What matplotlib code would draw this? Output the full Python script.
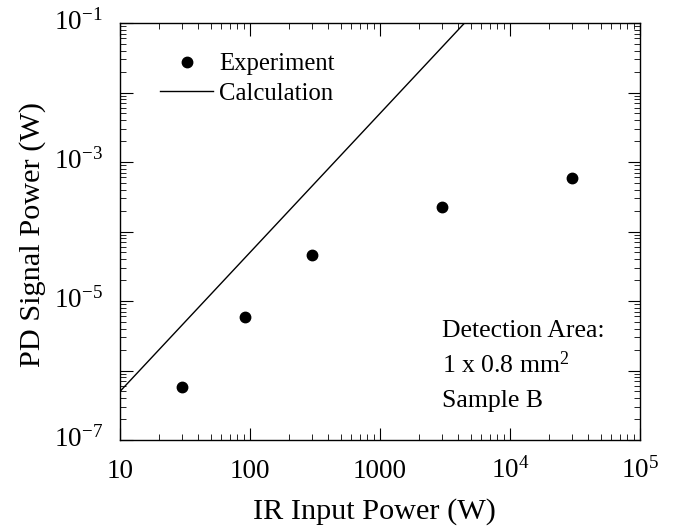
import numpy             as np
import matplotlib
matplotlib.use('Agg')
import matplotlib.pyplot    as plt
import matplotlib.transforms as mtransforms
from matplotlib.ticker import LogLocator, FixedLocator, FixedFormatter, NullFormatter

plt.rcParams['font.family']      = 'Liberation Serif'
plt.rcParams['mathtext.fontset'] = 'custom'
plt.rcParams['mathtext.rm']      = 'Liberation Serif'
plt.rcParams['mathtext.it']      = 'Liberation Serif:italic'
plt.rcParams['xtick.direction']  = 'in'
plt.rcParams['ytick.direction']  = 'in'

# Measured points
exp_x = [30, 92, 300, 3000, 30000]
exp_y = [5.7e-7, 5.9e-6, 4.6e-5, 2.25e-4, 5.9e-4]

# Calculated curve (end points, clipped by the axes)
calc_x = [10, 1e5]
calc_y = [5e-7, 50]

x_ticks       = [10, 100, 1000, 1e4, 1e5]
x_tick_labels = ['10', '100', '1000', r'10$^4$', r'10$^5$']
y_ticks       = [1e-7, 1e-5, 1e-3, 1e-1]
y_tick_labels = [r'10$^{\mathregular{-7}}$', r'10$^{\mathregular{-5}}$',
                 r'10$^{\mathregular{-3}}$', r'10$^{\mathregular{-1}}$']

ticksize  = 19.5
labelsize = 21.8
textsize  = 17.8

fig = plt.figure(figsize=(6.76, 5.27), dpi=100)
ax  = fig.add_axes([120/676, 1 - 440/527, 520/676, 417/527])

ax.plot(calc_x, calc_y, '-', color='black', linewidth=1.0, label='Calculation')
ax.plot(exp_x, exp_y, 'o', color='black', markersize=7.5, label='Experiment')

ax.set_xscale('log')
ax.set_yscale('log')
ax.set_xlim(10, 1e5)
ax.set_ylim(1e-7, 1e-1)

ax.xaxis.set_major_locator(FixedLocator(x_ticks))
ax.xaxis.set_major_formatter(FixedFormatter(x_tick_labels))
ax.xaxis.set_minor_locator(LogLocator(base=10, subs=np.arange(2, 10), numticks=20))
ax.xaxis.set_minor_formatter(NullFormatter())

# only odd decades carry a label on the y axis
ax.yaxis.set_major_locator(LogLocator(base=10, numticks=20))
ax.yaxis.set_minor_locator(LogLocator(base=10, subs=np.arange(2, 10), numticks=20))
ax.yaxis.set_major_formatter(NullFormatter())
ax.yaxis.set_minor_formatter(NullFormatter())
ytrans = mtransforms.offset_copy(ax.get_yaxis_transform(), fig=fig, x=-17, y=-7, units='dots')
for yt, lab in zip(y_ticks, y_tick_labels):
    ax.text(0, yt, lab, transform=ytrans, fontsize=ticksize, ha='right', va='baseline')

ax.tick_params(which='both', direction='in', top=True, right=True, labelsize=ticksize)
ax.tick_params(which='major', length=9, width=0.8)
ax.tick_params(which='minor', length=4.5, width=0.6)
ax.tick_params(axis='x', pad=27.4)
for lab in ax.get_xticklabels():
    lab.set_verticalalignment('baseline')

for spine in ax.spines.values():
    spine.set_linewidth(1.0)

ax.set_xlabel('IR Input Power (W)', fontsize=labelsize)
ax.xaxis.set_label_coords(0.49, -0.14)
ax.set_ylabel('PD Signal Power (W)', fontsize=labelsize)
ax.yaxis.set_label_coords(-0.142, 0.494)

handles, labels = ax.get_legend_handles_labels()
ax.legend(handles[::-1], labels[::-1], loc='upper left', bbox_to_anchor=(0.077, 0.928),
          frameon=False, fontsize=textsize, handlelength=2.15, handletextpad=0.25,
          labelspacing=0.3, borderpad=0, borderaxespad=0)

ax.text(0.619, 0.248, 'Detection Area:', transform=ax.transAxes, fontsize=18.5, va='baseline')
ax.text(0.619, 0.161, r'1 x 0.8 mm$^2$', transform=ax.transAxes, fontsize=18.5, va='baseline')
ax.text(0.619, 0.08, 'Sample B', transform=ax.transAxes, fontsize=18.5, va='baseline')

plt.savefig('out.png', dpi=100)
